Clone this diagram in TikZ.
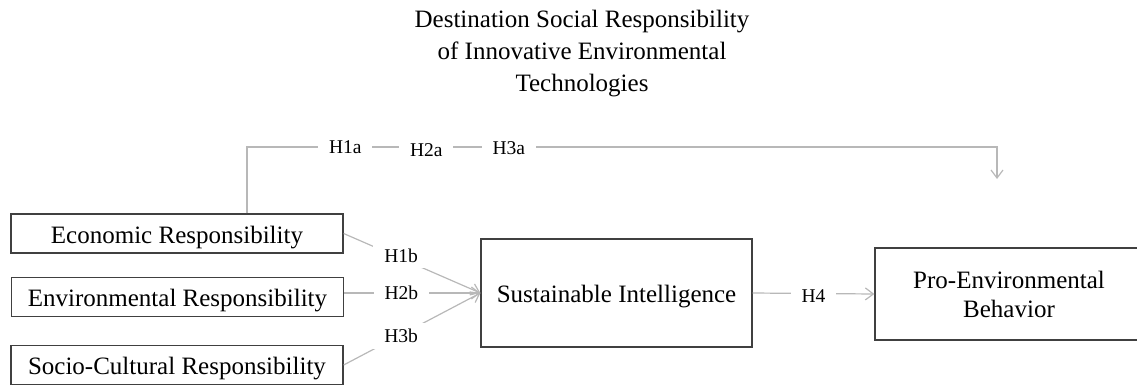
\documentclass[tikz,border=0pt]{standalone}
\usepackage{fontspec}
\setmainfont{Liberation Serif}
\usetikzlibrary{positioning,calc,arrows.meta}

\tikzset{
    box/.style={draw=black!75, line width=1.3pt, inner sep=0pt, align=center, font=\fontsize{25}{30}\selectfont},
    construct/.style={box, minimum width=332pt, minimum height=39pt, text height=21pt, text depth=2pt},
    link/.style={draw=black!28, line width=1.2pt},
    hlabel/.style={fill=white, inner xsep=11pt, inner ysep=6pt, font=\fontsize{19.5}{20}\selectfont},
    tip/.style={-{Straight Barb[length=8pt,width=12pt]}}
}

\begin{document}
\begin{tikzpicture}[x=1pt,y=-1pt]
            \useasboundingbox (0,0) rectangle (1137,386);

            % title
            \node[align=center, font=\fontsize{25}{32}\selectfont] (title) at (582,54)
                {Destination Social Responsibility\\of Innovative Environmental\\Technologies};

            % dimensions
            \node[construct] (eco) at (177,233.5) {Economic Responsibility};
            \node[construct] (env) at (177.5,297) {Environmental Responsibility};
            \node[construct] (soc) at (177,365) {Socio-Cultural Responsibility};

            % mediator and outcome
            \node[construct, minimum width=271pt, minimum height=108pt] (si) at (616.5,293) {Sustainable Intelligence};
            \node[box, minimum width=268pt, minimum height=92pt, font=\fontsize{25}{29}\selectfont] (peb) at (1009,294)
                {Pro-Environmental\\Behavior};

            % direct path over the top
            \coordinate (corner) at (247,147);
            \coordinate (drop) at (997,147);
            \coordinate (dropEnd) at (997,179);
            \draw[link, tip] (eco.north -| corner) -- (corner)
                -- node[hlabel, pos=0.131] (h1a) {H1a}
                   node[hlabel, pos=0.239, yshift=-3pt] (h2a) {H2a}
                   node[hlabel, pos=0.349, yshift=-1pt] (h3a) {H3a} (drop) -- (dropEnd);

            % paths into sustainable intelligence
            \draw[link, tip] (eco.east) -- node[hlabel, pos=0.42, yshift=3pt] (h1b) {H1b} (si.west);
            \draw[link, tip] (env.east |- si.west) -- node[hlabel, pos=0.42] (h2b) {H2b} (si.west);
            \draw[link, tip] (soc.east) -- node[hlabel, pos=0.42, yshift=-1pt] (h3b) {H3b} (si.west);

            % mediator to outcome
            \draw[link, tip] (si.east) -- node[hlabel, yshift=-3pt] (h4) {H4} (peb.west);
\end{tikzpicture}
\end{document}
